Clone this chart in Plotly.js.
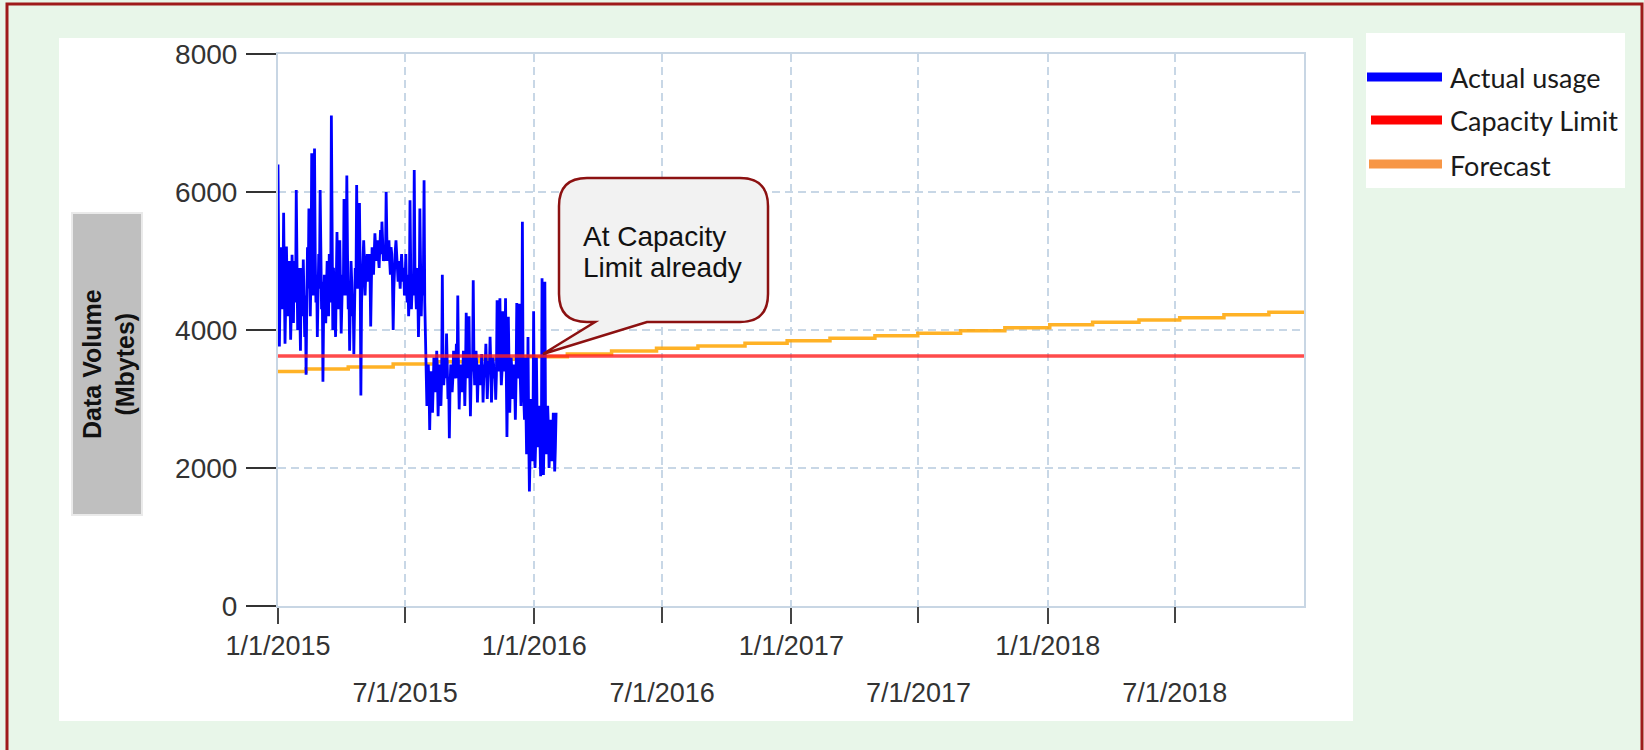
<!DOCTYPE html>
<html>
<head>
<meta charset="utf-8">
<script src="https://cdn.plot.ly/plotly-3.0.1.min.js"></script>
<style>
  html, body { margin: 0; padding: 0; background: #e8f6e9; }
  #chart { width: 1644px; height: 750px; }
</style>
</head>
<body>
<div id="chart"></div>
<script>
// ---------------- DATA ----------------
// Actual usage: one reading per day starting 1/1/2015
const usageStart = '2015-01-01';
const usageStepDays = 1;
const usageValues = [
  6400, 4900, 3760, 4600, 5200, 4800, 4300, 4500, 5700, 4700, 3800, 4400, 5210, 4650, 4200, 4450, 5000, 4550, 3860, 4300, 5090, 4700, 4100, 5000, 4700, 4400, 6030, 4700,
  4000, 4500, 4900, 4300, 3700, 4900, 4600, 4200, 5020, 4600, 3900, 4500, 3350, 4400, 5200, 4600, 5760, 5000, 4200, 4800, 6560, 5200, 4500, 4900, 6630, 5100, 4400, 4800,
  3900, 4500, 5100, 4600, 6030, 5200, 4300, 4700, 3250, 4300, 4800, 4500, 4100, 4600, 5000, 4700, 4200, 5100, 4700, 4400, 7110, 4800, 4000, 4900, 4600, 4400, 3900, 4700,
  5420, 4800, 4300, 4700, 5300, 4600, 3950, 4400, 4800, 4500, 5900, 5000, 4500, 4800, 6240, 5100, 4300, 4600, 3700, 4400, 5000, 4700, 4200, 4500, 3650, 4300, 4900, 4600,
  6100, 5200, 4600, 4900, 5840, 4800, 3050, 4400, 4700, 4900, 5300, 5000, 4500, 4800, 5000, 5100, 4700, 4900, 5100, 4800, 4050, 4700, 5200, 5000, 4800, 5100, 5400, 5200,
  5000, 5150, 5300, 5050, 4900, 5200, 5450, 5100, 5570, 5300, 5000, 5100, 5200, 5000, 6000, 5350, 5000, 5200, 5300, 5000, 4800, 5200, 5100, 4700, 4000, 4600, 5000, 5150,
  5300, 5100, 4900, 4700, 5000, 4800, 4600, 4900, 5100, 4850, 4700, 4900, 4500, 4700, 5100, 4600, 4400, 4800, 4200, 4500, 5880, 4900, 4300, 4600, 4700, 4500, 6320, 4900,
  4500, 4300, 4900, 4600, 3900, 4400, 5760, 4900, 4200, 4700, 4500, 4800, 6170, 4400, 3700, 3300,
  2900, 3300, 3500, 3200, 2550, 3100, 3400, 3300, 2800, 3200, 3600, 3400, 3100, 3300, 3700, 3400, 2750, 3200, 3500, 3400, 2900, 3300, 4800, 3500, 3200, 3400, 3600, 3300,
  3950, 3500, 3000, 3300, 2430, 3200, 3500, 3400, 3100, 3300, 3700, 3500, 3300, 3400, 3800, 3300, 4500, 3500, 2850, 3300, 3500, 3400, 3100, 3300, 3700, 3450, 2900, 3400,
  4250, 3600, 3300, 3500, 4200, 3400, 2750, 3300, 3600, 3400, 4720, 3600, 3200, 3400, 3700, 3500, 2950, 3300, 3500, 3400, 3200, 3300, 3650, 3450, 2950, 3300, 3400, 3500,
  3800, 3400, 3000, 3300, 3550, 3400, 3900, 3500, 2950, 3300, 3600, 3500, 3300, 3400, 2990, 3350, 4430, 3600, 3400, 3500, 4460, 3600, 3200, 3400, 4270, 3600, 3500, 3400,
  4460, 3400, 2450, 3300, 4190, 3500, 2800, 3300, 3600, 3400, 3000, 3300, 3500, 3200, 2700, 3300, 4390, 3500, 3300, 3400, 4380, 3300, 2900, 3400, 5570, 3300, 3000, 2700,
  3600, 2800, 2200, 2600, 3900, 2500, 1660, 2200, 3000, 2600, 2100, 2400, 4270, 2700, 2000, 2400, 3600, 2700, 2300, 2500, 2900, 2400, 1880, 2300, 4750, 2600, 1900, 2500,
  4700, 2600, 2200, 2500, 2900, 2600, 2000, 2400, 2700, 2500, 2100, 2300, 2800, 2500, 1950, 2300, 2800
];

// Capacity limit (flat)
const capacityDates  = ['2015-01-01', '2019-01-01'];
const capacityValues = [3625, 3625];

// Forecast (step line, bi-monthly steps)
const forecastDates = [
  '2015-01-01','2015-02-10','2015-04-11','2015-06-14','2015-08-15','2015-10-15',
  '2015-12-16','2016-02-17','2016-04-20','2016-06-23','2016-08-21','2016-10-27',
  '2016-12-26','2017-02-25','2017-04-30','2017-06-30','2017-08-30','2017-11-01',
  '2018-01-04','2018-03-06','2018-05-11','2018-07-08','2018-09-09','2018-11-12',
  '2019-01-01'
];
const forecastValues = [
  3400, 3435, 3465, 3507, 3541, 3575,
  3613, 3652, 3696, 3735, 3768, 3807,
  3845, 3880, 3918, 3952, 3990, 4033,
  4077, 4112, 4145, 4178, 4222, 4257,
  4257
];

// Axis ticks
const xTicksJan     = ['2015-01-01', '2016-01-01', '2017-01-01', '2018-01-01'];
const xTicksJanText = ['1/1/2015', '1/1/2016', '1/1/2017', '1/1/2018'];
const xTicksJul     = ['2015-07-01', '2016-07-01', '2017-07-01', '2018-07-01'];
const xTicksJulText = ['7/1/2015', '7/1/2016', '7/1/2017', '7/1/2018'];
const yTicks        = [0, 2000, 4000, 6000, 8000];
const xRange        = ['2015-01-01', '2019-01-01'];
const yRange        = [0, 8000];

const legendLabels = ['Actual usage', 'Capacity Limit', 'Forecast'];
const calloutLines = ['At Capacity', 'Limit already'];
const yTitleText   = '<b>Data Volume</b><br><b>(Mbytes)</b>';

// ---------------- BUILD ----------------
const dayMs = 86400000;
const t0 = Date.parse(usageStart + 'T00:00:00Z');
const usageDates = usageValues.map((_, i) =>
  new Date(t0 + i * usageStepDays * dayMs).toISOString().slice(0, 10));

// plot area in pixels
const L = 278, R = 1304, T = 54, B = 606;
const W = R - L, H = B - T;
const px = x => (x - L) / W;
const py = y => (B - y) / H;

const gridColor  = '#c8d7e6';
const frameColor = '#c8d6e4';
const tickColor  = '#444444';
const tickFont   = { family: 'Liberation Sans, Arial, sans-serif', size: 27, color: '#333333' };

const traces = [
  {
    x: forecastDates, y: forecastValues, type: 'scatter', mode: 'lines',
    line: { color: 'rgba(255,165,0,0.85)', width: 3.5, shape: 'hv' },
    name: legendLabels[2], hoverinfo: 'skip'
  },
  {
    x: usageDates, y: usageValues, type: 'scatter', mode: 'lines',
    line: { color: '#0000ff', width: 2.8 },
    name: legendLabels[0], hoverinfo: 'skip'
  },
  {
    x: capacityDates, y: capacityValues, type: 'scatter', mode: 'lines',
    xaxis: 'x2',
    line: { color: 'rgba(255,30,30,0.8)', width: 3.5 },
    name: legendLabels[1], hoverinfo: 'skip'
  }
];

// rounded speech bubble (pixel geometry -> paper)
function bubblePath(x0, y0, x1, y1, r, tailL, tailR, tipX, tipY) {
  const P = (x, y) => px(x).toFixed(5) + ',' + py(y).toFixed(5);
  return 'M' + P(x0 + r, y0) +
    ' L' + P(x1 - r, y0) +
    ' Q' + P(x1, y0) + ' ' + P(x1, y0 + r) +
    ' L' + P(x1, y1 - r) +
    ' Q' + P(x1, y1) + ' ' + P(x1 - r, y1) +
    ' L' + P(tailR, y1) +
    ' L' + P(tipX, tipY) +
    ' L' + P(tailL, y1) +
    ' L' + P(x0 + r, y1) +
    ' Q' + P(x0, y1) + ' ' + P(x0, y1 - r) +
    ' L' + P(x0, y0 + r) +
    ' Q' + P(x0, y0) + ' ' + P(x0 + r, y0) + ' Z';
}

const rectPx = (x0, y0, x1, y1, extra) => Object.assign({
  type: 'rect', xref: 'paper', yref: 'paper',
  x0: px(x0), x1: px(x1), y0: py(y1), y1: py(y0)
}, extra);

const legendColors = ['#0000ff', '#ff0000', '#f79646'];
const legendY = [77, 120, 164];
const legendX0 = [1367, 1371, 1369];

const shapes = [
  rectPx(7, 4, 1642, 754, { layer: 'below', line: { color: '#9e1a1a', width: 3 }, fillcolor: 'rgba(0,0,0,0)' }),
  rectPx(59, 38, 1353, 721, { layer: 'below', line: { width: 0 }, fillcolor: '#ffffff' }),
  rectPx(1366, 33, 1625, 188, { layer: 'below', line: { width: 0 }, fillcolor: '#ffffff' }),
  rectPx(72, 213, 142, 515, { layer: 'below', line: { color: '#eaeaea', width: 2 }, fillcolor: '#bfbfbf' }),
  {
    type: 'path', xref: 'paper', yref: 'paper', layer: 'above',
    path: bubblePath(559, 178, 768, 322, 28, 595, 647, 543, 354),
    fillcolor: '#f2f2f2', line: { color: '#8c1111', width: 2.5 }
  }
];
legendColors.forEach((c, k) => {
  shapes.push({
    type: 'line', xref: 'paper', yref: 'paper', layer: 'above',
    x0: px(legendX0[k]), x1: px(1442), y0: py(legendY[k]), y1: py(legendY[k]),
    line: { color: c, width: 9 }
  });
});

const annotations = [
  {
    xref: 'paper', yref: 'paper', x: px(108), y: py(364),
    text: yTitleText, textangle: -90, showarrow: false,
    xanchor: 'center', yanchor: 'middle',
    font: { family: 'Liberation Sans, Arial, sans-serif', size: 25, color: '#111111' }
  }
];
const calloutY = [236, 267];
calloutLines.forEach((line, k) => {
  annotations.push({
    xref: 'paper', yref: 'paper', x: px(581), y: py(calloutY[k]),
    text: line, showarrow: false, align: 'left',
    xanchor: 'left', yanchor: 'middle',
    font: { family: 'Liberation Sans, Arial, sans-serif', size: 28, color: '#111111' }
  });
});
legendLabels.forEach((lab, k) => {
  annotations.push({
    xref: 'paper', yref: 'paper', x: px(1448), y: py(legendY[k] + 1),
    text: lab, showarrow: false, xanchor: 'left', yanchor: 'middle',
    font: { family: 'Lato, Open Sans, sans-serif', size: 27, color: '#1a1a1a' }
  });
});

const commonX = {
  type: 'date', range: xRange, tickmode: 'array',
  showgrid: true, gridcolor: gridColor, gridwidth: 2, griddash: '8px,5px',
  ticks: 'outside', ticklen: 16, tickwidth: 2, tickcolor: tickColor,
  zeroline: false, tickfont: tickFont, fixedrange: true
};

const layout = {
  width: 1644, height: 750,
  margin: { l: L, r: 1644 - R, t: T, b: 750 - B, pad: 0 },
  paper_bgcolor: '#e8f6e9',
  plot_bgcolor: '#ffffff',
  showlegend: false,
  font: { family: 'Liberation Sans, Arial, sans-serif' },
  xaxis: Object.assign({}, commonX, {
    tickvals: xTicksJan, ticktext: xTicksJanText,
    showline: true, linecolor: frameColor, linewidth: 2, mirror: true,
    ticklabelstandoff: -1
  }),
  xaxis2: Object.assign({}, commonX, {
    overlaying: 'x', anchor: 'y', side: 'bottom',
    tickvals: xTicksJul, ticktext: xTicksJulText,
    showline: false, ticklabelstandoff: 47
  }),
  yaxis: {
    range: yRange, tickmode: 'array', tickvals: yTicks,
    showgrid: true, gridcolor: gridColor, gridwidth: 2, griddash: '8px,5px',
    ticks: 'outside', ticklen: 30, tickwidth: 2, tickcolor: '#333333',
    showline: true, linecolor: frameColor, linewidth: 2, mirror: true,
    zeroline: false, fixedrange: true,
    tickfont: { family: 'Liberation Sans, Arial, sans-serif', size: 28, color: '#333333' },
    ticklabelstandoff: 3
  },
  shapes: shapes,
  annotations: annotations
};

Plotly.newPlot('chart', traces, layout, { displayModeBar: false, staticPlot: true });
</script>
</body>
</html>
